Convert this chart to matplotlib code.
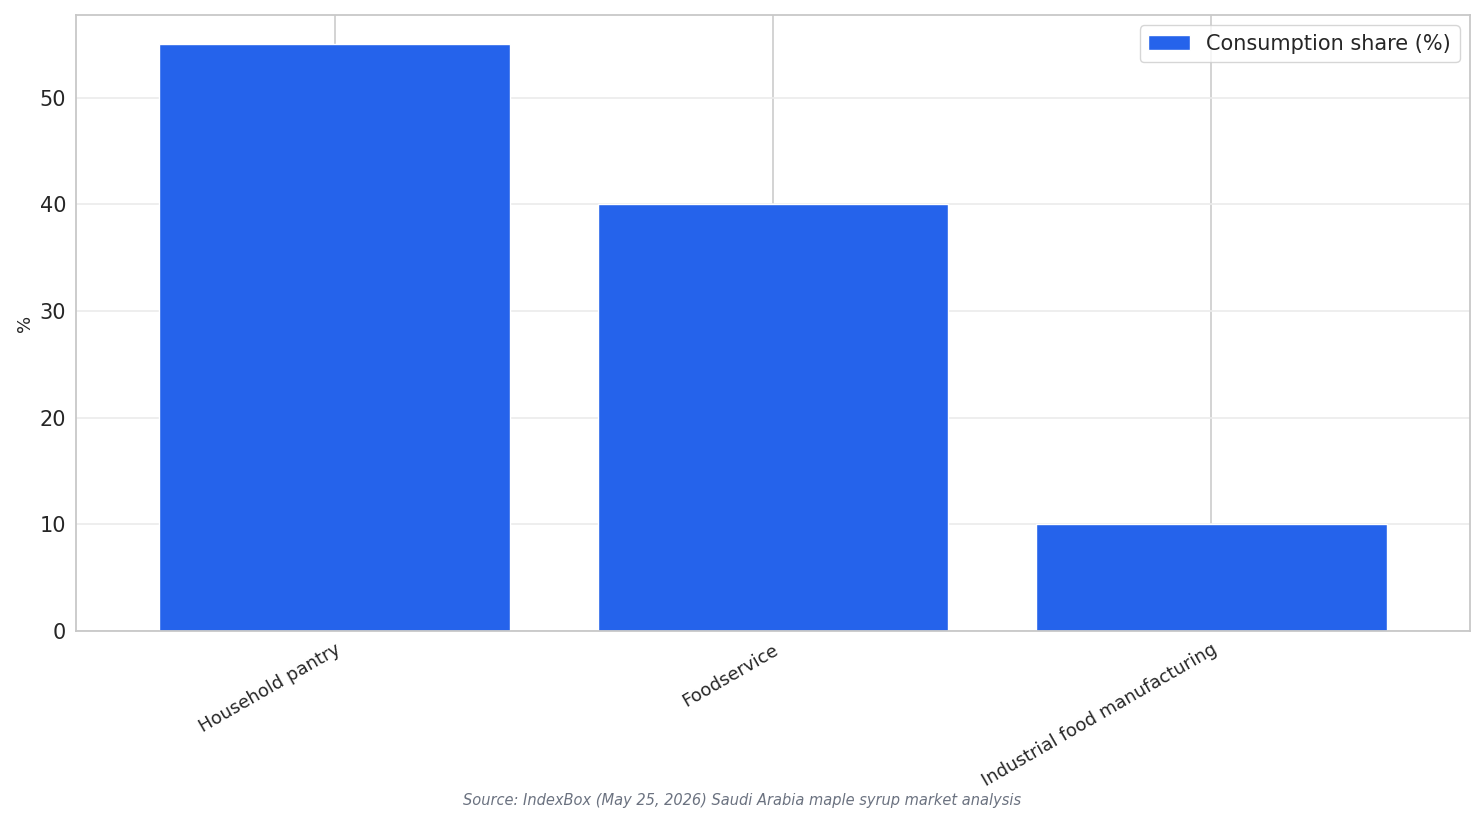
import matplotlib
matplotlib.use("Agg")
import matplotlib.pyplot as plt
import seaborn as sns

categories = ["Household pantry", "Foodservice", "Industrial food manufacturing"]
values = [55, 40, 10]
series_name = "Consumption share (%)"

sns.set_style("whitegrid")
plt.rcParams['font.family'] = ['DejaVu Sans']

fig = plt.figure(figsize=(14.84, 8.24), dpi=100)
ax = fig.add_axes([76/1484, 1-631/824, (1470-76)/1484, (631-15)/824])
ax.bar(categories, values, width=0.8, color="#2563eb", label=series_name, zorder=2)
ax.set_ylim(0, 57.75)
ax.set_xlim(-0.5 - 0.09, 2.5 + 0.09)
ax.set_ylabel("%", fontsize=13)
ax.tick_params(axis='y', labelsize=15)
ax.tick_params(axis='x', labelsize=13)
plt.setp(ax.get_xticklabels(), rotation=30, ha='right', rotation_mode='anchor')
ax.yaxis.grid(True, color="#ebebeb", linewidth=1.2)
ax.xaxis.grid(True, color="#cccccc", linewidth=1.2)
for s in ax.spines.values():
    s.set_color("#c8c8c8")
    s.set_linewidth(1.3)
ax.legend(loc="upper right", fontsize=15, frameon=True)
fig.text(0.5, 1-801/824, "Source: IndexBox (May 25, 2026) Saudi Arabia maple syrup market analysis",
         ha='center', va='center', fontsize=10.5, style='italic', color='#6b7280')
fig.savefig("out.png", dpi=100)
